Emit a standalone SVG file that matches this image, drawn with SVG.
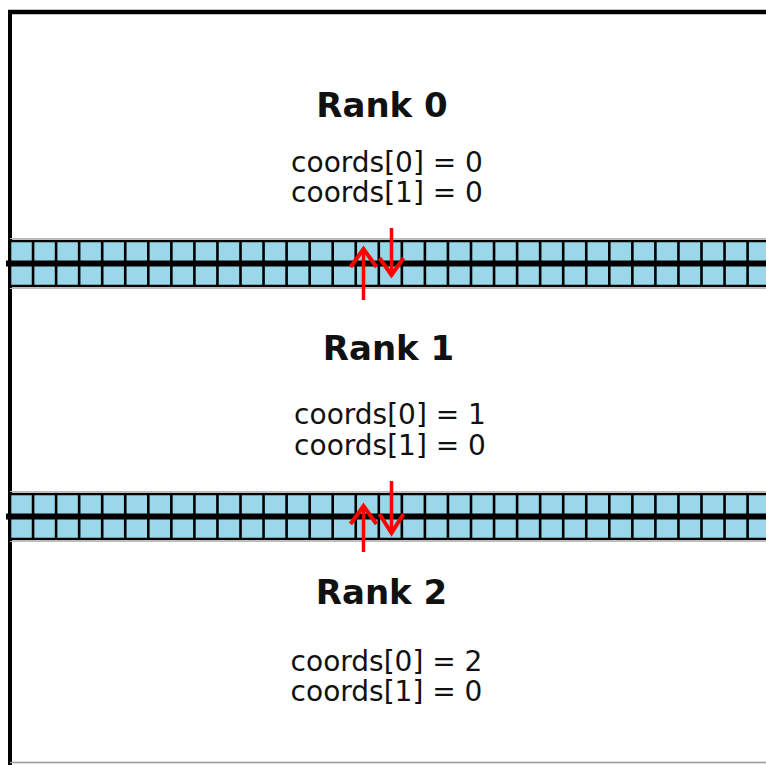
<svg xmlns="http://www.w3.org/2000/svg" xmlns:xlink="http://www.w3.org/1999/xlink" width="766" height="765" viewBox="0 0 766 765">
  <style>
    .rank { font-family: "DejaVu Sans", "Liberation Sans", sans-serif; font-weight: bold; font-size: 34px; fill: #111; text-anchor: middle; }
    .coord { font-family: "DejaVu Sans", "Liberation Sans", sans-serif; font-size: 28px; fill: #111; text-anchor: middle; }
    .cellfill { fill: #9ad7e8; }
    .grid { stroke: #000; stroke-width: 2.6; fill: none; }
    .bar { stroke: #000; stroke-width: 6; }
    .halo { stroke: #bbb; stroke-width: 1; }
    .arrow { stroke: #f00; stroke-width: 3.5; fill: none; }
    .head { stroke: #f00; stroke-width: 4; fill: none; }
  </style>
  <defs>
    <!-- one halo exchange strip: two rows of ghost cells split by a thick boundary -->
    <g id="strip">
      <rect class="cellfill" x="10" y="240" width="756" height="47"/>
      <line class="halo" x1="10" y1="238.5" x2="766" y2="238.5"/>
      <line class="halo" x1="10" y1="288.5" x2="766" y2="288.5"/>
      <line class="grid" x1="10" y1="241" x2="766" y2="241"/>
      <line class="grid" x1="10" y1="286" x2="766" y2="286"/>
      <path class="grid" d="M10,240V287 M33.05,240V287 M56.1,240V287 M79.15,240V287 M102.2,240V287 M125.25,240V287 M148.3,240V287 M171.35,240V287 M194.4,240V287 M217.45,240V287 M240.5,240V287 M263.55,240V287 M286.6,240V287 M309.65,240V287 M332.7,240V287 M355.75,240V287 M378.8,240V287 M401.85,240V287 M424.9,240V287 M447.95,240V287 M471,240V287 M494.05,240V287 M517.1,240V287 M540.15,240V287 M563.2,240V287 M586.25,240V287 M609.3,240V287 M632.35,240V287 M655.4,240V287 M678.45,240V287 M701.5,240V287 M724.55,240V287 M747.6,240V287"/>
      <line class="bar" x1="6" y1="263.5" x2="766" y2="263.5"/>
    </g>
  </defs>

  <rect x="0" y="0" width="766" height="765" fill="#fff"/>

  <!-- domain frame -->
  <g id="frame">
    <line x1="10" y1="10" x2="10" y2="765" stroke="#000" stroke-width="4"/>
    <line x1="8" y1="12" x2="766" y2="12" stroke="#000" stroke-width="4.5"/>
    <line x1="10" y1="762.5" x2="766" y2="762.5" stroke="#999" stroke-width="1.5"/>
  </g>

  <g id="strip-0-1"><use xlink:href="#strip"/></g>
  <g id="strip-1-2"><use xlink:href="#strip" transform="translate(0,253)"/></g>

  <g id="rank0">
    <text class="rank" x="382" y="117">Rank 0</text>
    <text class="coord" x="387" y="172">coords[0] = 0</text>
    <text class="coord" x="387" y="202">coords[1] = 0</text>
  </g>

  <g id="rank1">
    <text class="rank" x="388.5" y="360">Rank 1</text>
    <text class="coord" x="390" y="424">coords[0] = 1</text>
    <text class="coord" x="390" y="455">coords[1] = 0</text>
  </g>

  <g id="rank2">
    <text class="rank" x="381.5" y="604">Rank 2</text>
    <text class="coord" x="386.5" y="671">coords[0] = 2</text>
    <text class="coord" x="386.5" y="701">coords[1] = 0</text>
  </g>

  <!-- halo exchange messages between neighbouring ranks -->
  <g id="connectors">
    <path class="arrow" d="M363.5,300V251"/>
    <path class="head" d="M350.5,267L363.5,249L376.5,267"/>
    <path class="arrow" d="M391.5,228V273"/>
    <path class="head" d="M379.5,258L391.5,275L403.5,258"/>
    <path class="arrow" d="M363.5,552V508"/>
    <path class="head" d="M350.5,524L363.5,506L376.5,524"/>
    <path class="arrow" d="M391.5,481V531"/>
    <path class="head" d="M379.5,514L391.5,533L403.5,514"/>
  </g>
</svg>
